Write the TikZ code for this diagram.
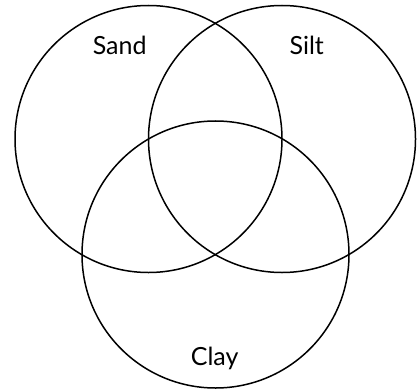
\documentclass[tikz,border=0pt]{standalone}
\usepackage{fontspec}
\setmainfont{Lato}
\tikzset{
  ring/.style={line width=1.5pt, black},
  soil/.style={font=\fontsize{25}{28}\selectfont, anchor=base, inner sep=0pt}
}
\begin{document}
\begin{tikzpicture}[x=1pt, y=-1pt]
    \useasboundingbox (0,0) rectangle (419,390);
    % 三个圆
    \draw[ring] (148.5,139) circle[radius=133.5pt];
    \draw[ring] (282,139) circle[radius=133.5pt];
    \draw[ring] (215.5,254.5) circle[radius=133.5pt];

    % 标签
    \node[soil] (sand) at (119.7,54.3) {Sand};
    \node[soil] (silt) at (306.7,54.3) {Silt};
    \node[soil] (clay) at (214.7,365) {Clay};
\end{tikzpicture}
\end{document}
